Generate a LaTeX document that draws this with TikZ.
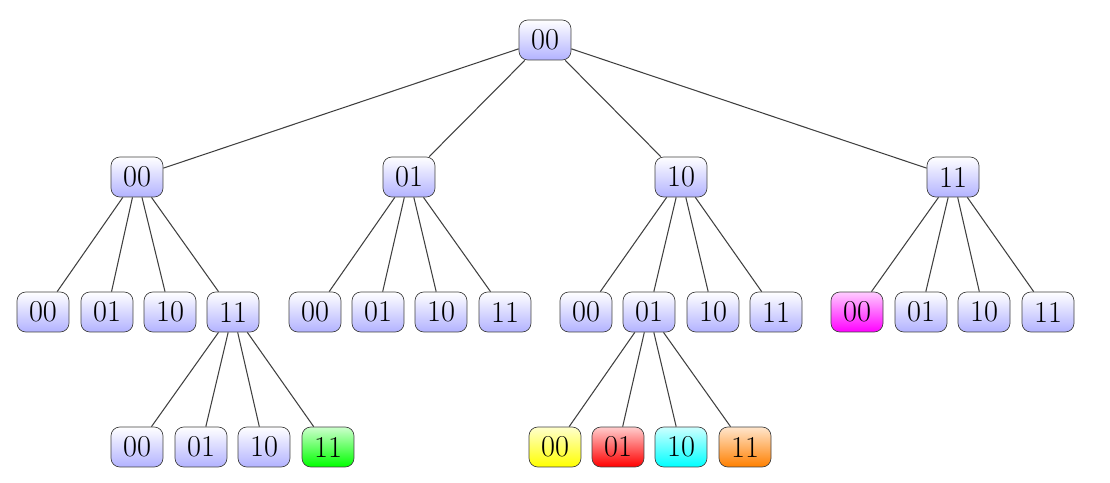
\documentclass[tikz,border=0pt]{standalone}
\begin{document}
\begin{tikzpicture}[x=0.02cm,y=-0.02cm,
 n/.style={draw=black!75,rounded corners=5pt,minimum width=1.04cm,minimum height=0.8cm,inner sep=0pt,font=\LARGE,top color=white,bottom color=blue!30},
 c/.style={n,top color=#1!20,bottom color=#1},
 e/.style={draw=black!75,line width=0.6pt}]
\useasboundingbox (0,0) rectangle (1110,483);
\node[n] (r) at (545,40) {00};
\foreach \i/\x/\t in {a/137/00,b/409/01,c/681/10,d/953/11} \node[n] (\i) at (\x,177) {\t};
\node[n] (a0) at (43,312) {00};\node[n] (a1) at (107,312) {01};\node[n] (a2) at (170,312) {10};\node[n] (a3) at (233,312) {11};
\node[n] (b0) at (315,312) {00};\node[n] (b1) at (378,312) {01};\node[n] (b2) at (441,312) {10};\node[n] (b3) at (505,312) {11};
\node[n] (c0) at (586,312) {00};\node[n] (c1) at (649,312) {01};\node[n] (c2) at (713,312) {10};\node[n] (c3) at (776,312) {11};
\node[c=magenta] (d0) at (857,312) {00};\node[n] (d1) at (921,312) {01};\node[n] (d2) at (984,312) {10};\node[n] (d3) at (1048,312) {11};
\node[n] (e0) at (137,447) {00};\node[n] (e1) at (201,447) {01};\node[n] (e2) at (264,447) {10};\node[c=green] (e3) at (328,447) {11};
\node[c=yellow] (f0) at (555,447) {00};\node[c=red] (f1) at (618,447) {01};\node[c=cyan] (f2) at (681,447) {10};\node[c=orange] (f3) at (745,447) {11};
\foreach \i in {a,b,c,d} {\draw[e] (r) -- (\i); \foreach \j in {0,1,2,3} \draw[e] (\i) -- (\i\j);}
\foreach \j in {0,1,2,3} {\draw[e] (a3) -- (e\j); \draw[e] (c1) -- (f\j);}
\end{tikzpicture}
\end{document}
